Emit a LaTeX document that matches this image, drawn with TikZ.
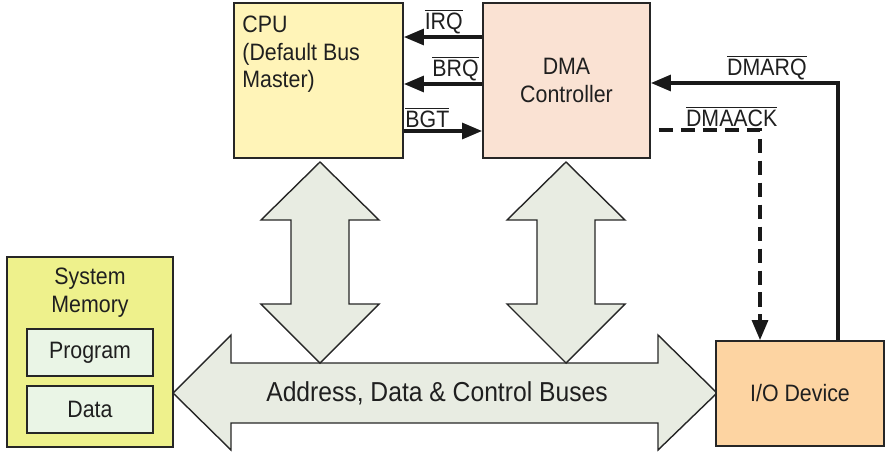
\documentclass[tikz,border=0pt]{standalone}
\usepackage{fontspec}
\setmainfont{Liberation Sans}[FakeStretch=0.9]
\usetikzlibrary{arrows.meta}
\definecolor{cpuyellow}{HTML}{FFF4B8}
\definecolor{dmapink}{HTML}{FAE2D3}
\definecolor{memyellow}{HTML}{EEF18C}
\definecolor{memmint}{HTML}{EAF5E6}
\definecolor{busgrey}{HTML}{E8ECE2}
\definecolor{iopeach}{HTML}{FDD4A2}
\newcommand{\sigbar}[1]{$\overline{\mbox{#1}}$}
\tikzset{
  block/.style={draw=black!85, line width=1.1pt, inner sep=0pt},
  lbl/.style={font=\fontsize{13.5}{15.5}\selectfont, text=black!88},
  sig/.style={line width=1.8pt, black!90, -{Triangle[length=4mm,width=3.2mm]}},
  sigtext/.style={lbl, above, inner sep=1pt},
  busarrow/.style={draw=black!85, line width=0.8pt, fill=busgrey}
}
\begin{document}
\begin{tikzpicture}[x=0.02cm,y=-0.02cm]
  \useasboundingbox (0,0) rectangle (891,451);
  % buses
  \draw[busarrow] (173,393) -- (231,335) -- (231,363) -- (658,363) -- (658,335)
    -- (717,393) -- (658,450) -- (658,423) -- (231,423) -- (231,450) -- cycle;
  \foreach \x in {320,566}
    \draw[busarrow] (\x,162) -- (\x+59,220) -- (\x+29,220) -- (\x+29,304) -- (\x+59,304)
      -- (\x,363) -- (\x-59,304) -- (\x-29,304) -- (\x-29,220) -- (\x-59,220) -- cycle;
  \node[lbl, font=\fontsize{15.6}{18}\selectfont] (bus) at (437,393) {Address, Data \& Control Buses};
  % blocks
  \node[block, fill=cpuyellow, minimum width=3.38cm, minimum height=3.1cm,
    label={[lbl, anchor=north west, align=left, inner sep=0pt, xshift=0.18cm, yshift=-0.28cm]north west:CPU\\(Default Bus\\Master)}]
    (cpu) at (318.5,80.5) {};
  \node[block, fill=dmapink, minimum width=3.34cm, minimum height=3.1cm, lbl, align=center]
    (dma) at (566.5,80.5) {DMA\\Controller};
  \node[block, fill=memyellow, minimum width=3.32cm, minimum height=3.8cm,
    label={[lbl, anchor=north, align=center, inner sep=0pt, yshift=-0.24cm]north:System\\Memory}]
    (mem) at (90,352) {};
  \node[block, fill=memmint, minimum width=2.52cm, minimum height=0.94cm, lbl] (prog) at (90,352.5) {Program};
  \node[block, fill=memmint, minimum width=2.52cm, minimum height=0.94cm, lbl] (data) at (90,409.5) {Data};
  \node[block, fill=iopeach, minimum width=3.36cm, minimum height=2.1cm, lbl] (io) at (800,393.5) {I/O Device};
  % signals
  \draw[sig] ([yshift=0.87cm]dma.west) -- node[sigtext, pos=0.49] {\sigbar{IRQ}} ([yshift=0.87cm]cpu.east);
  \draw[sig] ([yshift=-0.07cm]dma.west) -- node[sigtext, pos=0.34] {\sigbar{BRQ}} ([yshift=-0.07cm]cpu.east);
  \draw[sig] ([yshift=-1.01cm]cpu.east) -- node[sigtext, pos=0.3] {\sigbar{BGT}} ([yshift=-1.01cm]dma.west);
  \draw[sig] ([xshift=0.76cm]io.north) |- node[sigtext, pos=0.69] {\sigbar{DMARQ}} ([yshift=-0.05cm]dma.east);
  \draw[sig, dash pattern=on 8pt off 4.5pt] ([xshift=0.16cm, yshift=-0.99cm]dma.east)
    -| node[sigtext, pos=0.36] {\sigbar{DMAACK}} ([xshift=-0.8cm]io.north);
\end{tikzpicture}
\end{document}
